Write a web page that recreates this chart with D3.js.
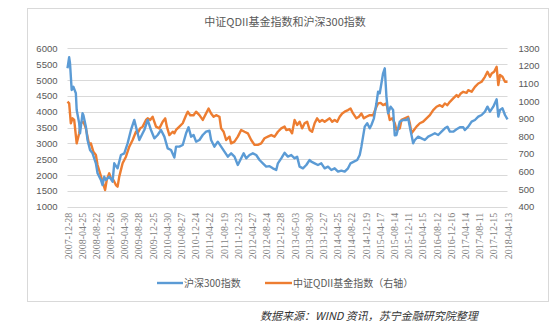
<!DOCTYPE html>
<html>
<head>
<meta charset="utf-8">
<script src="https://cdn.jsdelivr.net/npm/d3@7/dist/d3.min.js"></script>
<style>
  html, body { margin: 0; padding: 0; background: #fff; }
  svg { display: block; }
  text { font-family: "Noto Sans CJK SC", "Noto Sans", sans-serif; }
</style>
</head>
<body>
<svg id="chart" width="550" height="329"></svg>
<script>
// Weekly x axis: every 17th week carries a date label
const tickLabels = [
  "2007-12-28","2008-04-25","2008-08-22","2008-12-26","2009-04-30","2009-08-28",
  "2009-12-25","2010-04-30","2010-08-27","2010-12-24","2011-04-22","2011-08-19",
  "2011-12-23","2012-04-27","2012-08-24","2012-12-28","2013-05-03","2013-08-30",
  "2013-12-27","2014-04-25","2014-08-22","2014-12-19","2015-04-17","2015-08-14",
  "2015-12-11","2016-04-15","2016-08-12","2016-12-16","2017-04-14","2017-08-11",
  "2017-12-15","2018-04-13"
];
const weeksPerLabel = 17;

// 沪深300指数 (left axis): week index and close
const hs300Weeks = [0,2,3,5,7,10,11,14,15,18,19,22,24,27,30,34,36,40,42,44,46,50,54,56,60,64,68,72,76,80,83,86,90,92,96,100,104,108,112,116,120,124,128,130,134,138,142,145,148,151,154,158,162,166,170,172,176,180,184,188,192,196,200,204,208,211,214,218,222,226,230,234,238,242,246,250,252,256,260,264,268,272,275,278,282,286,290,292,296,300,304,308,312,316,320,324,328,332,336,339,343,347,350,352,354,356,359,362,364,367,370,372,374,376,378,380,382,384,387,390,392,394,398,402,406,408,410,414,416,420,424,428,432,436,440,444,448,452,455,458,462,466,470,474,476,480,484,488,492,496,500,503,506,510,514,516,518,521,524,527];
const hs300 = [5370,5716,5527,4684,4788,4580,4053,3633,3317,3948,3895,3525,3106,2790,2685,2370,2054,1843,1685,1947,1843,1947,1790,2370,2212,2632,2685,3000,3421,3737,3421,3106,3317,3421,3737,3421,3159,3264,3421,3211,2843,2790,2550,2895,2895,2948,3317,3506,3211,3264,3053,3106,3264,3369,3400,3106,2895,3053,2895,2737,2580,2685,2580,2317,2527,2685,2527,2632,2685,2632,2474,2370,2264,2280,2212,2159,2370,2527,2700,2580,2632,2527,2580,2264,2212,2317,2474,2421,2370,2317,2370,2212,2264,2159,2212,2106,2140,2106,2212,2370,2421,2474,2632,2895,3211,3527,3633,3474,3580,3790,4264,4632,4580,4895,5211,5369,4474,3948,4159,4053,3250,3264,3685,3737,3737,3790,3527,3000,3106,3211,3159,3106,3211,3264,3317,3264,3369,3474,3527,3369,3369,3443,3506,3506,3421,3527,3685,3737,3843,3895,4000,4158,4000,4158,4390,3843,4053,4106,3895,3758];

// 中证QDII基金指数 (right axis): week index and close
const qdiiWeeks = [0,2,4,6,8,11,14,16,19,22,26,28,31,34,36,39,42,45,47,50,52,55,58,60,62,66,70,74,78,82,84,87,90,94,96,99,102,106,110,114,117,119,122,126,128,130,134,138,142,144,147,151,154,158,162,166,169,172,175,178,182,184,187,190,194,196,200,204,208,212,216,220,224,228,232,236,240,244,248,252,256,260,262,266,269,272,275,278,281,284,287,290,293,296,299,302,305,308,311,314,317,320,323,326,329,332,336,339,342,346,349,352,355,358,362,366,370,372,375,378,382,384,386,389,392,394,398,400,404,408,410,412,415,418,422,426,430,434,438,442,446,449,452,455,458,462,466,468,471,474,478,480,484,488,492,496,500,503,506,508,511,514,516,518,521,524,527];
const qdii = [997,987,874,902,893,760,817,874,883,845,751,760,712,694,637,590,542,495,552,590,561,552,523,514,571,647,684,741,779,826,817,845,855,893,902,893,911,855,845,883,902,855,807,826,817,836,855,874,920,940,920,920,940,920,893,930,958,930,911,920,911,845,826,779,798,760,770,798,836,826,817,779,751,751,760,789,798,807,798,826,845,855,836,840,817,893,864,883,845,874,883,836,826,874,902,883,893,883,893,902,883,893,883,911,930,940,949,958,930,902,911,930,902,911,920,920,968,987,990,977,987,940,893,902,874,836,845,893,902,911,874,817,836,855,874,883,902,920,949,968,977,968,987,977,996,1015,1034,1024,1043,1053,1047,1062,1053,1081,1100,1110,1138,1167,1138,1157,1167,1195,1091,1148,1138,1110,1110];

const leftTicks = d3.range(1000, 6001, 500);
const rightTicks = d3.range(400, 1301, 100);

const title = "中证QDII基金指数和沪深300指数";
const seriesNames = ["沪深300指数", "中证QDII基金指数（右轴）"];
const colors = ["#5B9BD5", "#ED7D31"];
const sourceNote = "数据来源：WIND 资讯，苏宁金融研究院整理";

const svg = d3.select("#chart");

// chart frame
svg.append("rect")
  .attr("x", 27.5).attr("y", 8.5).attr("width", 521).attr("height", 293)
  .attr("fill", "#fff").attr("stroke", "#d9d9d9").attr("stroke-width", 1);

const plot = { left: 67.5, right: 507.5, top: 48.3, bottom: 206.7 };
const lastWeek = (tickLabels.length - 1) * weeksPerLabel;

const x = d3.scaleLinear().domain([0, lastWeek]).range([plot.left, plot.right]);
const yL = d3.scaleLinear().domain([1000, 6000]).range([plot.bottom, plot.top]);
const yR = d3.scaleLinear().domain([400, 1300]).range([plot.bottom, plot.top]);

// horizontal gridlines
svg.append("g").selectAll("line").data(leftTicks).join("line")
  .attr("x1", plot.left).attr("x2", plot.right)
  .attr("y1", d => Math.round(yL(d)) + 0.5).attr("y2", d => Math.round(yL(d)) + 0.5)
  .attr("stroke", "#d9d9d9").attr("stroke-width", 1);

// left axis
const gL = svg.append("g").attr("transform", `translate(${plot.left - 10},0)`)
  .call(d3.axisLeft(yL).tickValues(leftTicks).tickSize(0).tickPadding(0).tickFormat(d3.format("d")));
gL.select(".domain").remove();
gL.selectAll("text").attr("fill", "#595959").style("font-size", "9.5px")
  .style("font-family", "'Liberation Sans', Arial, sans-serif");

// right axis
const gR = svg.append("g").attr("transform", `translate(${plot.right + 11},0)`)
  .call(d3.axisRight(yR).tickValues(rightTicks).tickSize(0).tickPadding(0).tickFormat(d3.format("d")));
gR.select(".domain").remove();
gR.selectAll("text").attr("fill", "#595959").style("font-size", "9.5px")
  .style("font-family", "'Liberation Sans', Arial, sans-serif");

// bottom axis with rotated date labels
const gX = svg.append("g").attr("transform", `translate(0,${plot.bottom + 6})`)
  .call(d3.axisBottom(x)
    .tickValues(tickLabels.map((_, i) => i * weeksPerLabel))
    .tickFormat((d, i) => tickLabels[i])
    .tickSize(0).tickPadding(0));
gX.select(".domain").remove();
gX.selectAll("text")
  .attr("transform", "rotate(-90)")
  .attr("text-anchor", "end")
  .attr("x", 0).attr("y", 0).attr("dy", "0.35em")
  .attr("fill", "#7f7f7f")
  .style("font-size", "10px")
  .style("font-family", "'Liberation Serif', 'DejaVu Serif', serif");

// series lines
const lineL = d3.line().x(d => x(d[0])).y(d => yL(d[1]));
const lineR = d3.line().x(d => x(d[0])).y(d => yR(d[1]));

svg.append("path")
  .datum(qdiiWeeks.map((w, i) => [w, qdii[i]]))
  .attr("d", lineR).attr("fill", "none")
  .attr("stroke", colors[1]).attr("stroke-width", 2.4).attr("stroke-linejoin", "round");

svg.append("path")
  .datum(hs300Weeks.map((w, i) => [w, hs300[i]]))
  .attr("d", lineL).attr("fill", "none")
  .attr("stroke", colors[0]).attr("stroke-width", 2.4).attr("stroke-linejoin", "round");

// title
svg.append("text").attr("x", 285).attr("y", 26)
  .attr("text-anchor", "middle").attr("fill", "#595959")
  .style("font-size", "11px").text(title);

// legend
const legendItems = [{ x: 157, w: 26 }, { x: 265, w: 27 }];
legendItems.forEach((it, i) => {
  const g = svg.append("g").attr("transform", `translate(${it.x},283)`);
  g.append("line").attr("x1", 0).attr("x2", it.w).attr("y1", 0).attr("y2", 0)
    .attr("stroke", colors[i]).attr("stroke-width", 2.4);
  g.append("text").attr("x", it.w + 1).attr("y", 0).attr("dy", "0.35em")
    .attr("fill", "#595959").style("font-size", "10px").text(seriesNames[i]);
});

// source note
svg.append("text").attr("x", 260).attr("y", 320)
  .attr("fill", "#333").style("font-size", "11px").style("font-style", "italic")
  .text(sourceNote);
</script>
</body>
</html>
